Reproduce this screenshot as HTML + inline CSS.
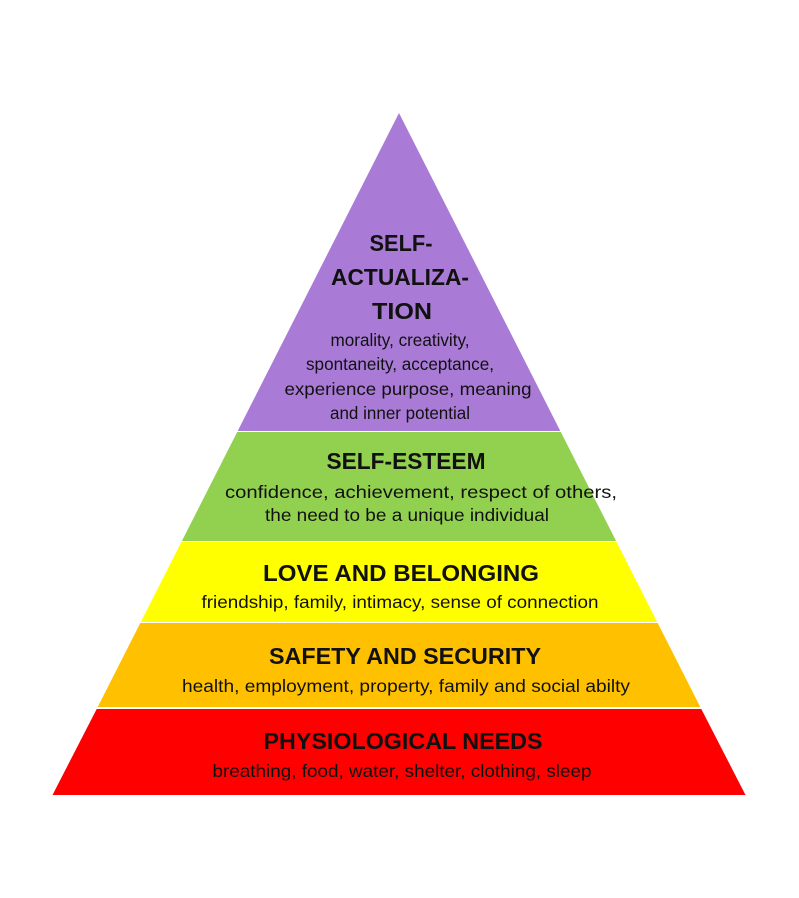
<!DOCTYPE html>
<html><head><meta charset="utf-8"><style>
html,body{margin:0;padding:0;background:#fff}
svg{display:block}
text{font-family:"Liberation Sans",Arial,sans-serif;fill:#111}
.t{font-weight:bold;font-size:23.5px}
.s{font-size:17.5px}
</style></head><body>
<svg width="799" height="898" viewBox="0 0 799 898">
<polygon points="399,113 560.3,431 237.7,431" fill="#A97AD6"/>
<polygon points="237.2,432 560.8,432 616.1,541 181.9,541" fill="#92D050"/>
<polygon points="181.4,542 616.6,542 657.2,622 140.8,622" fill="#FFFF00"/>
<polygon points="140.3,623 657.7,623 700.3,707 97.7,707" fill="#FFC000"/>
<polygon points="96.7,709 701.3,709 745.5,795 52.5,795" fill="#FF0000"/>
<g text-anchor="middle" dominant-baseline="central">
<text class="t" x="401" y="243" textLength="63" lengthAdjust="spacingAndGlyphs">SELF-</text>
<text class="t" x="400" y="277" textLength="138" lengthAdjust="spacingAndGlyphs">ACTUALIZA-</text>
<text class="t" x="402" y="311" textLength="60" lengthAdjust="spacingAndGlyphs">TION</text>
<text class="s" x="400" y="340" textLength="139" lengthAdjust="spacingAndGlyphs">morality, creativity,</text>
<text class="s" x="400" y="364" textLength="188" lengthAdjust="spacingAndGlyphs">spontaneity, acceptance,</text>
<text class="s" x="408" y="389" textLength="247" lengthAdjust="spacingAndGlyphs">experience purpose, meaning</text>
<text class="s" x="400" y="413" textLength="140" lengthAdjust="spacingAndGlyphs">and inner potential</text>
<text class="t" x="406" y="461" textLength="159" lengthAdjust="spacingAndGlyphs">SELF-ESTEEM</text>
<text class="s" x="421" y="492" textLength="392" lengthAdjust="spacingAndGlyphs">confidence, achievement, respect of others,</text>
<text class="s" x="407" y="515" textLength="284" lengthAdjust="spacingAndGlyphs">the need to be a unique individual</text>
<text class="t" x="401" y="573" textLength="276" lengthAdjust="spacingAndGlyphs">LOVE AND BELONGING</text>
<text class="s" x="400" y="602" textLength="397" lengthAdjust="spacingAndGlyphs">friendship, family, intimacy, sense of connection</text>
<text class="t" x="405" y="656" textLength="272" lengthAdjust="spacingAndGlyphs">SAFETY AND SECURITY</text>
<text class="s" x="406" y="686" textLength="448" lengthAdjust="spacingAndGlyphs">health, employment, property, family and social abilty</text>
<text class="t" x="403" y="741" textLength="279" lengthAdjust="spacingAndGlyphs">PHYSIOLOGICAL NEEDS</text>
<text class="s" x="402" y="771" textLength="379" lengthAdjust="spacingAndGlyphs">breathing, food, water, shelter, clothing, sleep</text>
</g>
</svg>
</body></html>
